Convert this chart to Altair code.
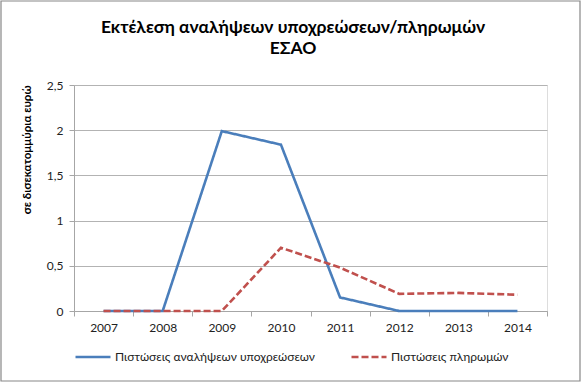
import altair as alt
import pandas as pd

years = ["2007", "2008", "2009", "2010", "2011", "2012", "2013", "2014"]
commitments = [0, 0, 1.99, 1.84, 0.15, 0, 0, 0]
payments = [0, 0, 0, 0.70, 0.48, 0.19, 0.20, 0.18]
series_names = ["Πιστώσεις αναλήψεων υποχρεώσεων", "Πιστώσεις πληρωμών"]
title_lines = ["Εκτέλεση αναλήψεων υποχρεώσεων/πληρωμών", "ΕΣΑΟ"]
y_ticks = [0, 0.5, 1, 1.5, 2, 2.5]

rows = []
for y, c, p in zip(years, commitments, payments):
    rows.append({"year": y, "value": c, "series": series_names[0]})
    rows.append({"year": y, "value": p, "series": series_names[1]})
df = pd.DataFrame(rows)

FONT = "Lato"

lines = alt.Chart(df).mark_line(strokeWidth=2.6, clip=False).encode(
    x=alt.X("year:O", sort=years, bandPosition=0.5,
            scale=alt.Scale(type="band", paddingInner=0, paddingOuter=0),
            axis=alt.Axis(title=None, labelAngle=0, tickBand="extent", grid=False,
                          domainColor="#a6a6a6", tickColor="#a6a6a6", tickSize=5,
                          labelPadding=6, labelFontSize=12, labelColor="#222222", labelFont=FONT)),
    y=alt.Y("value:Q", scale=alt.Scale(domain=[0, 2.5], nice=False),
            axis=alt.Axis(values=y_ticks, title="σε δισεκατομμύρια ευρώ",
                          labelExpr="replace(format(datum.value, '.1~f'), '.', ',')",
                          grid=True, gridColor="#b3b3b3", domainColor="#a6a6a6",
                          tickColor="#a6a6a6", tickSize=5, labelPadding=6,
                          labelFontSize=12, labelColor="#222222", labelFont=FONT,
                          titleFont=FONT, titleFontSize=11.5, titleFontWeight="bold",
                          titleColor="#000000", titleAnchor="end", titlePadding=14)),
    color=alt.Color("series:N", sort=series_names,
                    scale=alt.Scale(domain=series_names, range=["#4a7ebb", "#c0504d"]),
                    legend=alt.Legend(title=None, orient="none", direction="horizontal",
                                      legendX=0, legendY=253, symbolType="stroke",
                                      symbolSize=1225, symbolStrokeWidth=2.6,
                                      labelFontSize=12, labelFont=FONT, labelColor="#222222",
                                      labelLimit=0, columnPadding=30, labelOffset=3)),
    strokeDash=alt.StrokeDash("series:N", sort=series_names,
                              scale=alt.Scale(domain=series_names, range=[[1, 0], [7, 3]]),
                              legend=None),
)

border = alt.Chart(pd.DataFrame({"a": [0]})).mark_rect(
    fill=None, stroke="#878787", strokeWidth=1.2, clip=False
).encode(
    x=alt.value(-73), x2=alt.value(506), y=alt.value(-84), y2=alt.value(296)
)

title = alt.Chart(pd.DataFrame({"a": [0]})).mark_text(
    font=FONT, fontSize=17.5, fontWeight="bold", color="#000000", align="center",
    baseline="alphabetic", lineHeight=21, clip=False
).encode(
    x=alt.value(219), y=alt.value(-52), text=alt.value(title_lines)
)

chart = alt.layer(border, title, lines).properties(
    width=473, height=226,
    padding={"left": 74, "top": 85, "right": 35, "bottom": 72},
    autosize=alt.AutoSizeParams(type="none"),
).configure_view(stroke=None).configure(background="white")

chart.save("out.html", embed_options={"renderer": "svg", "actions": False})
